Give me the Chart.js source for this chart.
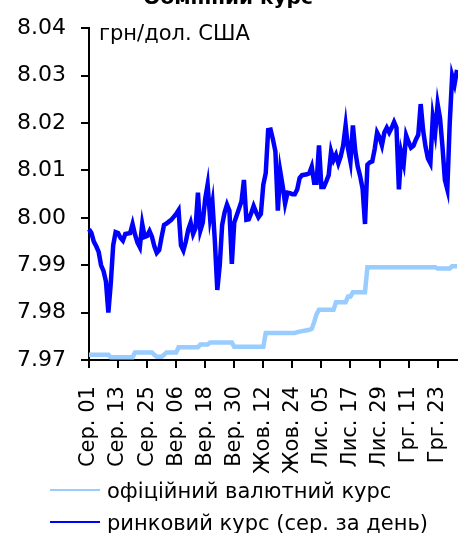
<!DOCTYPE html>
<html>
<head>
<meta charset="utf-8">
<script src="https://cdn.jsdelivr.net/npm/chart.js@4.4.0/dist/chart.umd.min.js"></script>
<style>
  html, body { margin: 0; padding: 0; background: #fff; overflow: hidden; }
</style>
</head>
<body>
<canvas id="rate-chart" width="458" height="533"></canvas>
<script>
const chartTitle = 'Обмінний курс';
const unitLabel = 'грн/дол. США';
const seriesNames = ['офіційний валютний курс', 'ринковий курс (сер. за день)'];

// one category per calendar day, Aug 1 .. Dec 31
const months = ['Сер.', 'Вер.', 'Жов.', 'Лис.', 'Грг.'];
const monthDays = [31, 30, 31, 30, 31];
const tickLabels = ['Сер. 01', 'Сер. 13', 'Сер. 25', 'Вер. 06', 'Вер. 18', 'Вер. 30',
  'Жов. 12', 'Жов. 24', 'Лис. 05', 'Лис. 17', 'Лис. 29', 'Грг. 11', 'Грг. 23'];
const tickEvery = 12;

const officialRate = [
  7.9711, 7.9711, 7.9711, 7.9711, 7.9711, 7.9711, 7.9711, 7.9711, 7.9711,
  7.9706, 7.9706, 7.9706, 7.9706, 7.9706, 7.9706, 7.9706, 7.9706, 7.9706, 7.9706,
  7.9716, 7.9716, 7.9716, 7.9716, 7.9716, 7.9716, 7.9716, 7.9716,
  7.9711, 7.9707, 7.9707, 7.9707, 7.9711,
  7.9716, 7.9716, 7.9716, 7.9716, 7.9716,
  7.9727, 7.9727, 7.9727, 7.9727, 7.9727, 7.9727, 7.9727, 7.9727, 7.9727,
  7.9733, 7.9733, 7.9733, 7.9733,
  7.9737, 7.9737, 7.9737, 7.9737, 7.9737, 7.9737, 7.9737, 7.9737, 7.9737, 7.9737,
  7.9728, 7.9728, 7.9728, 7.9728, 7.9728, 7.9728, 7.9728, 7.9728, 7.9728, 7.9728, 7.9728, 7.9728, 7.9728,
  7.9757, 7.9757, 7.9757, 7.9757, 7.9757, 7.9757, 7.9757, 7.9757, 7.9757, 7.9757, 7.9757, 7.9757, 7.9757,
  7.9759, 7.9760, 7.9761, 7.9762, 7.9763, 7.9764, 7.9766,
  7.9780, 7.9797,
  7.9806, 7.9806, 7.9806, 7.9806, 7.9806, 7.9806, 7.9806,
  7.9822, 7.9822, 7.9822, 7.9822, 7.9822,
  7.9834, 7.9834,
  7.9843, 7.9843, 7.9843, 7.9843, 7.9843, 7.9843,
  7.9896, 7.9896, 7.9896, 7.9896, 7.9896, 7.9896, 7.9896, 7.9896, 7.9896, 7.9896,
  7.9896, 7.9896, 7.9896, 7.9896, 7.9896, 7.9896, 7.9896, 7.9896, 7.9896, 7.9896,
  7.9896, 7.9896, 7.9896, 7.9896, 7.9896, 7.9896, 7.9896, 7.9896, 7.9896,
  7.9893, 7.9893, 7.9893, 7.9893, 7.9893, 7.9893,
  7.9898, 7.9898, 7.9898
];

const marketRate = [
  7.9976, 7.9968, 7.9950, 7.9940, 7.9928, 7.9900, 7.9888, 7.9866, 7.9800, 7.9862,
  7.9942, 7.9970, 7.9968, 7.9958, 7.9952, 7.9966, 7.9967, 7.9968, 7.9987, 7.9965,
  7.9948, 7.9938, 7.9987, 7.9960, 7.9962, 7.9972, 7.9960, 7.9940, 7.9926, 7.9932,
  7.9960, 7.9985, 7.9988, 7.9992, 7.9996, 8.0002, 8.0008, 8.0016, 7.9942, 7.9931,
  7.9950, 7.9975, 7.9990, 7.9966, 7.9978, 8.0053, 7.9973, 7.9990, 8.0040, 8.0070,
  8.0001, 8.0032, 7.9950, 7.9848, 7.9900, 7.9985, 8.0011, 8.0028, 8.0015, 7.9903,
  7.9990, 8.0005, 8.0020, 8.0035, 8.0080, 7.9996, 7.9997, 8.0010, 8.0025, 8.0012,
  8.0001, 8.0008, 8.0070, 8.0094, 8.0185, 8.0186, 8.0165, 8.0140, 8.0015, 8.0098,
  8.0067, 8.0030, 8.0053, 8.0052, 8.0050, 8.0050, 8.0060, 8.0084, 8.0090, 8.0091,
  8.0092, 8.0094, 8.0108, 8.0074, 8.0074, 8.0153, 8.0065, 8.0065, 8.0077, 8.0090,
  8.0140, 8.0122, 8.0133, 8.0115, 8.0130, 8.0153, 8.0195, 8.0146, 8.0119, 8.0195,
  8.0140, 8.0108, 8.0088, 8.0062, 7.9987, 8.0112, 8.0117, 8.0119, 8.0145, 8.0180,
  8.0170, 8.0153, 8.0180, 8.0190, 8.0180, 8.0190, 8.0202, 8.0190, 8.0060, 8.0137,
  8.0115, 8.0174, 8.0160, 8.0148, 8.0152, 8.0165, 8.0175, 8.0240, 8.0185, 8.0150,
  8.0125, 8.0115, 8.0212, 8.0180, 8.0240, 8.0210, 8.0150, 8.0080, 8.0060, 8.0200,
  8.0300, 8.0282, 8.0312
];

const days = [];
months.forEach((m, i) => {
  for (let d = 1; d <= monthDays[i]; d++) {
    days.push(`${m} ${String(d).padStart(2, '0')}`);
  }
});

const FONT = 'DejaVu Sans';
Chart.defaults.font.family = FONT;
Chart.defaults.color = '#000';

// title (mostly above the canvas), unit caption and a left-aligned legend
const extras = {
  id: 'extras',
  afterDraw(chart) {
    const { ctx, chartArea } = chart;
    ctx.save();
    ctx.fillStyle = '#000';
    ctx.textBaseline = 'alphabetic';

    ctx.font = `bold 20px "${FONT}"`;
    ctx.textAlign = 'center';
    ctx.fillText(chartTitle, 228, 4);

    ctx.font = `21px "${FONT}"`;
    ctx.textAlign = 'left';
    ctx.fillText(unitLabel, chartArea.left + 10, 40);

    chart.data.datasets.forEach((ds, i) => {
      const y = 490 + i * 32;
      ctx.strokeStyle = ds.borderColor;
      ctx.lineWidth = 2;
      ctx.beginPath();
      ctx.moveTo(50, y);
      ctx.lineTo(100, y);
      ctx.stroke();
      ctx.fillText(ds.label, 107, y + 8);
    });
    ctx.restore();
  }
};

new Chart(document.getElementById('rate-chart'), {
  type: 'line',
  data: {
    labels: days,
    datasets: [
      {
        label: seriesNames[0],
        data: officialRate,
        borderColor: '#99ccff',
        borderWidth: 4.5,
        pointRadius: 0,
        tension: 0
      },
      {
        label: seriesNames[1],
        data: marketRate,
        borderColor: '#0000ff',
        borderWidth: 4.5,
        pointRadius: 0,
        tension: 0
      }
    ]
  },
  options: {
    responsive: false,
    animation: false,
    devicePixelRatio: 1,
    layout: { padding: { top: 21, left: 2, right: 1, bottom: 41 } },
    plugins: {
      legend: { display: false },
      tooltip: { enabled: false }
    },
    scales: {
      x: {
        grid: {
          drawOnChartArea: false,
          tickLength: 8,
          lineWidth: 2,
          color: c => (c.index % tickEvery === 0 ? '#000' : 'rgba(0,0,0,0)')
        },
        border: { color: '#000', width: 2 },
        ticks: {
          autoSkip: false,
          maxRotation: 90,
          minRotation: 90,
          padding: 18,
          font: { size: 21 },
          callback: (v, i) => (i % tickEvery === 0 ? tickLabels[i / tickEvery] : '')
        },
        afterFit(scale) { scale.paddingRight = 0; }
      },
      y: {
        min: 7.97,
        max: 8.04,
        grid: { drawOnChartArea: false, tickLength: 8, lineWidth: 2, color: '#000' },
        border: { color: '#000', width: 2 },
        ticks: {
          stepSize: 0.01,
          padding: 15,
          font: { size: 22 },
          callback: v => v.toFixed(2)
        }
      }
    }
  },
  plugins: [extras]
});
</script>
</body>
</html>
